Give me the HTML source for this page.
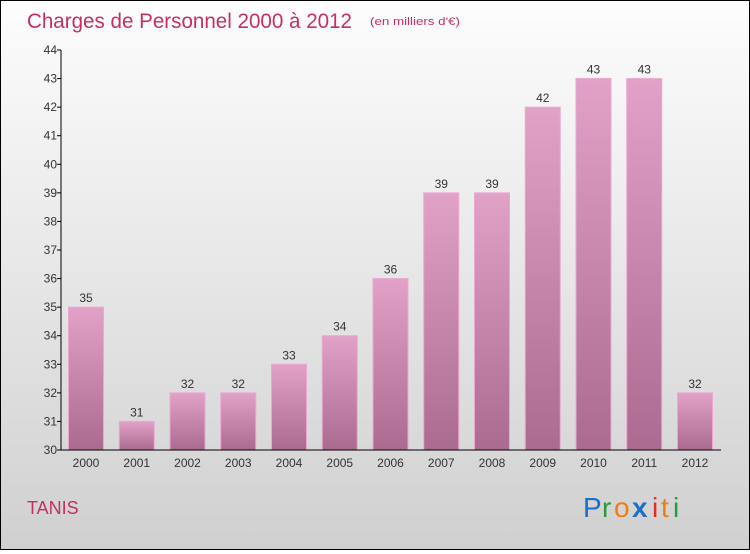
<!DOCTYPE html>
<html><head><meta charset="utf-8"><style>
body{margin:0;width:750px;height:550px;overflow:hidden;font-family:"Liberation Sans",sans-serif}
#c{position:absolute;left:0;top:0;width:748px;height:548px;border:1px solid #000;background:linear-gradient(#fdfdfd,#d0d0d0)}
</style></head><body>
<div id="c">
<svg width="748" height="548" id="s">
<defs><linearGradient id="g" x1="0" y1="0" x2="0" y2="1"><stop offset="0" stop-color="#e2a2c8"/><stop offset="1" stop-color="#ab6b90"/></linearGradient></defs>
<text x="26" y="27" font-size="21" fill="#c4315f" textLength="325" lengthAdjust="spacingAndGlyphs">Charges de Personnel 2000 à 2012</text>
<text x="369" y="24" font-size="11" fill="#c4315f" textLength="90" lengthAdjust="spacingAndGlyphs">(en milliers d'€)</text>
<text x="26" y="513" font-size="18" fill="#c4315f">TANIS</text>
<g font-size="28" font-family="'Liberation Sans',sans-serif">
<text x="582" y="516" fill="#1a6fc8">P</text><text x="601" y="516" fill="#2a9a3a">r</text><text x="613" y="516" fill="#f07d10">o</text><text x="631" y="516" fill="#1a6fc8" font-weight="bold">x</text><text x="651" y="516" fill="#e03020">i</text><text x="660" y="516" fill="#f07d10">t</text><text x="672" y="516" fill="#2a9a3a">i</text></g>
<g id="ax"></g>
</svg></div>
<script>
const years=["2000","2001","2002","2003","2004","2005","2006","2007","2008","2009","2010","2011","2012"];
const values=[35,31,32,32,33,34,36,39,39,42,43,43,32];
const yTicks=[30,31,32,33,34,35,36,37,38,39,40,41,42,43,44];
const ns="http://www.w3.org/2000/svg",ax=document.getElementById('ax');
const y=v=>449-(v-30)*400/14, x=i=>85+i*50.75;
function el(t,a,txt){const e=document.createElementNS(ns,t);for(const k in a)e.setAttribute(k,a[k]);if(txt!=null)e.textContent=txt;ax.appendChild(e);return e;}
values.forEach((v,i)=>{
const b=el('rect',{x:x(i)-17.5,y:y(v),width:35,height:y(30)-y(v),fill:'url(#g)',stroke:'#eaa8d0','stroke-width':1});


const t=el('text',{x:x(i),y:y(v)-5,'text-anchor':'middle','font-size':12,fill:'#333'},v);


const l=el('text',{x:x(i),y:466,'text-anchor':'middle','font-size':12,fill:'#333'},years[i]);


});
yTicks.forEach(v=>{
const tk=el('line',{x1:56,x2:60,y1:y(v),y2:y(v),stroke:'#000'});


const t=el('text',{x:56,y:y(v)+4,'text-anchor':'end','font-size':12,fill:'#333'},v);


});
const ya=el('line',{x1:60,x2:60,y1:y(44),y2:y(30),stroke:'#000'});


const xa=el('line',{x1:60,x2:720,y1:y(30),y2:y(30),stroke:'#000'});


</script>
</body></html>
